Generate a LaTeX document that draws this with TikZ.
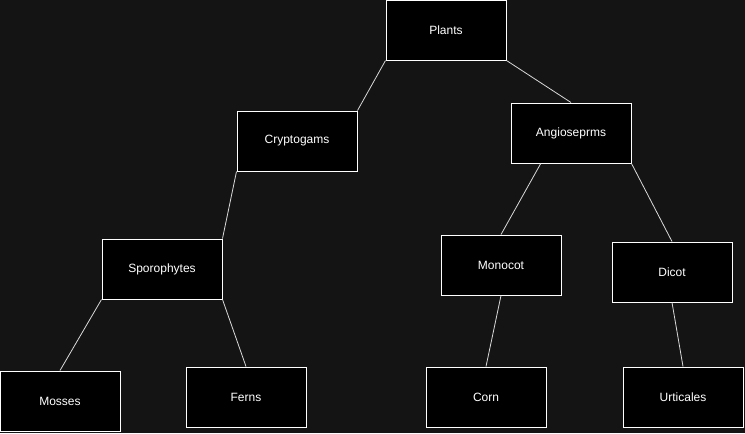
\documentclass[tikz,border=0pt]{standalone}
\usepackage{fontspec}
\setmainfont{Liberation Sans}
\usepackage{xcolor}
\usepackage{tikz}
\usetikzlibrary{calc}

\definecolor{canvas}{RGB}{20,20,20}

\begin{document}
\begin{tikzpicture}[
  x=0.75pt, y=-0.75pt,
  box/.style={rectangle, draw=white, fill=black, line width=0.75pt, minimum width=90pt, minimum height=45pt, text=white, align=center},
  link/.style={draw=white!85!black, line width=0.6pt},
  every node/.style={font=\fontsize{9}{11}\selectfont}
]

% background
\fill[canvas] (0,0) rectangle (745,433);
\useasboundingbox (0,0) rectangle (745,433);

% top level
\node[box] (plants) at (446, 30) {Plants};

% second level
\node[box] (crypto) at (297, 141) {Cryptogams};
\node[box] (angio) at (571, 133) {Angioseprms};

% third level
\node[box] (sporo) at (162, 269) {Sporophytes};
\node[box] (monocot) at (501, 265) {Monocot};
\node[box] (dicot) at (672, 272) {Dicot};

% leaves
\node[box] (mosses) at (60, 401) {Mosses};
\node[box] (ferns) at (246, 397) {Ferns};
\node[box] (corn) at (486, 397) {Corn};
\node[box] (urticales) at (683, 397) {Urticales};

% Links
\draw[link] (plants.south west) -- (crypto.north east);
\draw[link] (plants.south east) -- (angio.north);
\draw[link] (crypto.south west) -- (sporo.north east);
\draw[link] (sporo.south west) -- (mosses.north);
\draw[link] (sporo.south east) -- (ferns.north);
\draw[link] ($(angio.south west)!0.5!(angio.south)$) -- (monocot.north);
\draw[link] (angio.south east) -- (dicot.north);
\draw[link] (monocot.south) -- (corn.north);
\draw[link] (dicot.south) -- (urticales.north);

\end{tikzpicture}
\end{document}
